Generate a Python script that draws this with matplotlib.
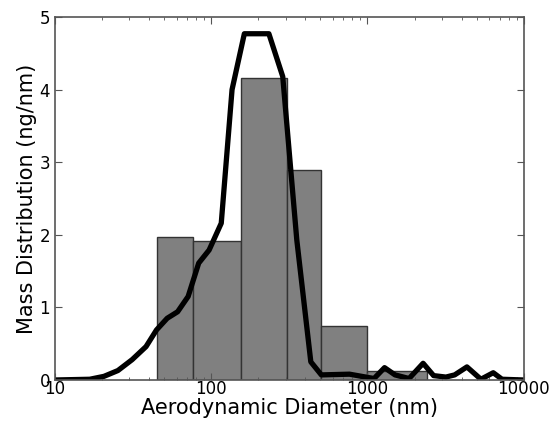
import numpy as np
import matplotlib
matplotlib.use("Agg")
import matplotlib.pyplot as plt

# histogram bins (nm) and heights
bin_edges = [45, 77, 155, 305, 505, 1000, 2400]
bin_heights = [1.97, 1.91, 4.16, 2.89, 0.75, 0.13]

# smooth distribution curve
diam = [10, 16.7, 20.6, 25.3, 31.2, 38.3, 44.7, 52.3, 61, 71.2, 83.2, 97, 116,
        136, 163, 234, 287, 353, 434, 507, 767, 1102, 1286, 1501, 1846, 2270,
        2650, 3176, 3614, 4330, 5320, 6380, 7260, 10000]
mass = [0.0, 0.01, 0.05, 0.13, 0.28, 0.46, 0.69, 0.85, 0.94, 1.15, 1.61, 1.79, 2.16,
        4.0, 4.77, 4.77, 4.18, 1.93, 0.25, 0.07, 0.08, 0.02, 0.17, 0.07, 0.02, 0.23,
        0.06, 0.04, 0.07, 0.18, 0.01, 0.10, 0.01, 0.0]

fig = plt.figure(figsize=(5.49, 4.23), dpi=100)
ax = fig.add_axes([0.100, 0.1017, 0.854, 0.858])

edges = np.array(bin_edges)
ax.bar(edges[:-1], bin_heights, width=np.diff(edges), align='edge',
       color='#808080', edgecolor='#333333', linewidth=1.0)
ax.plot(diam, mass, color='black', linewidth=3.8)

ax.set_xscale('log')
ax.set_xlim(10, 10000)
ax.set_ylim(0, 5)
ax.set_xticks([10, 100, 1000, 10000])
ax.set_xticklabels(['10', '100', '1000', '10000'])
ax.set_yticks([0, 1, 2, 3, 4, 5])

ax.tick_params(which='both', direction='in', top=True, right=True,
               labelsize=12, color='#555555')
ax.tick_params(which='major', length=5)
ax.tick_params(which='minor', length=2.5)
ax.tick_params(axis='x', pad=0)
for s in ax.spines.values():
    s.set_color('#555555')
    s.set_linewidth(1.2)

ax.set_xlabel('Aerodynamic Diameter (nm)', fontsize=15, labelpad=0)
ax.set_ylabel('Mass Distribution (ng/nm)', fontsize=15, labelpad=2)

fig.savefig('out.png', dpi=100)
